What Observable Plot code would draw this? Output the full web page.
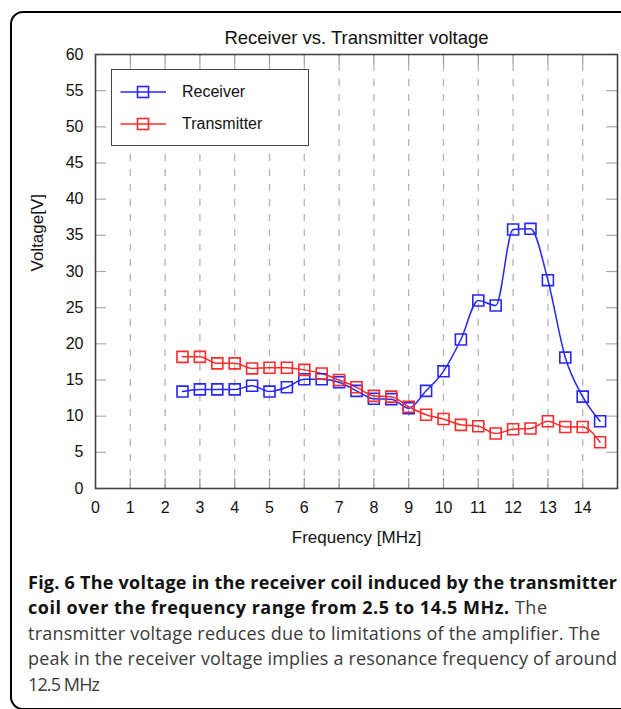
<!DOCTYPE html>
<html>
<head>
<meta charset="utf-8">
<script src="https://cdn.jsdelivr.net/npm/d3@7"></script>
<script src="https://cdn.jsdelivr.net/npm/@observablehq/plot@0.6"></script>
<style>
  html, body { margin: 0; padding: 0; background: #fff; }
  body { width: 621px; height: 709px; overflow: hidden; position: relative; }
  #frame { position: absolute; left: 10px; top: 11px; width: 720px; height: 699px; box-sizing: border-box;
           border: 2.5px solid #000; border-radius: 13px; }
  #chart { position: absolute; left: 0; top: 0; }
  #legend { position: absolute; left: 111px; top: 69px; width: 198px; height: 77px; box-sizing: border-box;
            border: 1.5px solid #444; background: #fff; font-family: "Liberation Sans", Arial, sans-serif; font-size: 16px; }
  .entry { position: absolute; left: 0; height: 20px; display: flex; align-items: center; }
  .entry svg { display: block; }
  .entry span { margin-left: 14px; color: #111; }
  #caption { position: absolute; left: 28px; top: 569.5px; font-family: "Open Sans", sans-serif; font-size: 18px;
             line-height: 25.6px; color: #3a3a3a; white-space: nowrap; }
  #caption .ln { display: block; width: max-content; }
  #caption b { color: #111; font-weight: 700; }
</style>
</head>
<body>
<div id="frame"></div>
<div id="chart"></div>
<div id="legend"></div>
<div id="caption">
  <div class="ln"><b>Fig. 6 The voltage in the receiver coil induced by the transmitter</b></div>
  <div class="ln"><b>coil over the frequency range from 2.5 to 14.5 MHz.</b> The</div>
  <div class="ln">transmitter voltage reduces due to limitations of the amplifier. The</div>
  <div class="ln">peak in the receiver voltage implies a resonance frequency of around</div>
  <div class="ln">12.5 MHz</div>
</div>
<script>
const title = "Receiver vs. Transmitter voltage";
const xLabel = "Frequency [MHz]";
const yLabel = "Voltage[V]";
const seriesNames = ["Receiver", "Transmitter"];
const seriesColors = ["#2626ff", "#ff2a2a"];
const xTicks = [0,1,2,3,4,5,6,7,8,9,10,11,12,13,14];
const yTicks = [0,5,10,15,20,25,30,35,40,45,50,55,60];
const freq = [2.5,3,3.5,4,4.5,5,5.5,6,6.5,7,7.5,8,8.5,9,9.5,10,10.5,11,11.5,12,12.5,13,13.5,14,14.5];
const receiver = [13.4,13.7,13.7,13.7,14.2,13.4,14.0,15.1,15.1,14.7,13.5,12.4,12.35,11.1,13.5,16.2,20.6,26.0,25.3,35.8,35.9,28.8,18.1,12.7,9.3];
const transmitter = [18.2,18.2,17.3,17.3,16.6,16.7,16.7,16.4,15.9,15.0,14.0,12.8,12.7,11.3,10.2,9.6,8.8,8.6,7.6,8.2,8.3,9.3,8.5,8.5,6.4];

const rows = [];
freq.forEach((f, i) => {
  rows.push({f, v: receiver[i], s: seriesNames[0]});
  rows.push({f, v: transmitter[i], s: seriesNames[1]});
});

const W = 621, H = 560, mL = 95, mR = 4, mT = 54, mB = 72;
const innerW = W - mL - mR, innerH = H - mT - mB;
const font = "Liberation Sans, Arial, sans-serif";
const gridX = xTicks.filter(d => d > 0);

const chart = Plot.plot({
  width: W, height: H,
  marginLeft: mL, marginRight: mR, marginTop: mT, marginBottom: mB,
  style: {fontFamily: font, background: "transparent"},
  x: {domain: [0, 15]},
  y: {domain: [0, 60]},
  color: {domain: seriesNames, range: seriesColors},
  marks: [
    Plot.ruleX(gridX, {x: d => d, stroke: "#b4b4b4", strokeWidth: 1.3, strokeDasharray: "7,8", strokeDashoffset: -10}),
    Plot.tickX(xTicks, {x: d => d, insetBottom: innerH - 10, stroke: "#999", strokeWidth: 1.2}),
    Plot.tickX(xTicks, {x: d => d, insetTop: innerH - 10, stroke: "#999", strokeWidth: 1.2}),
    Plot.tickY(yTicks, {y: d => d, insetRight: innerW - 11, stroke: "#aaa", strokeWidth: 1.2}),
    Plot.tickY(yTicks, {y: d => d, insetLeft: innerW - 11, stroke: "#aaa", strokeWidth: 1.2}),
    Plot.frame({stroke: "#444", strokeWidth: 1.6}),
    Plot.line(rows, {x: "f", y: "v", z: "s", stroke: "s", strokeWidth: 1.5, curve: "monotone-x"}),
    Plot.dot(rows, {x: "f", y: "v", stroke: "s", symbol: "square", r: 6.2, strokeWidth: 1.6, fill: "none"}),
    Plot.axisX({ticks: xTicks, tickSize: 0, tickPadding: 13, fontSize: 16, label: null, tickFormat: d => d, fill: "#111"}),
    Plot.axisY({ticks: yTicks, tickSize: 0, tickPadding: 12, fontSize: 16, label: null, tickFormat: d => d, fill: "#111"}),
    Plot.text([title], {text: d => d, frameAnchor: "top", lineAnchor: "middle", dy: -16, fontSize: 18.5, fill: "#111"}),
    Plot.text([xLabel], {text: d => d, frameAnchor: "bottom", lineAnchor: "middle", dy: 49, fontSize: 17, fill: "#111"}),
    Plot.text([yLabel], {text: d => d, frameAnchor: "left", dx: -58, rotate: -90, fontSize: 17, fill: "#111"})
  ]
});
document.getElementById("chart").appendChild(chart);

// HTML legend overlay
const legend = d3.select("#legend");
seriesNames.forEach((name, i) => {
  const e = legend.append("div").attr("class", "entry").style("top", (i === 0 ? 11.5 : 43.5) + "px");
  const s = e.append("svg").attr("width", 56).attr("height", 20);
  s.append("line").attr("x1", 8.5).attr("x2", 54).attr("y1", 10).attr("y2", 10)
    .attr("stroke", seriesColors[i]).attr("stroke-width", 1.5);
  const side = 6.2 * Math.sqrt(Math.PI);
  s.append("rect").attr("x", 31 - side/2).attr("y", 10 - side/2).attr("width", side).attr("height", side)
    .attr("fill", "none").attr("stroke", seriesColors[i]).attr("stroke-width", 1.6);
  e.append("span").text(name);
});

// fit caption lines to the reference's line lengths
const lineWidths = [589, 519, 572, 589, 72];
document.querySelectorAll("#caption .ln").forEach((el, i) => {
  const w = el.getBoundingClientRect().width;
  const n = el.textContent.length;
  if (n > 1) el.style.letterSpacing = ((lineWidths[i] - w) / (n - 1)).toFixed(3) + "px";
});
</script>
</body>
</html>
